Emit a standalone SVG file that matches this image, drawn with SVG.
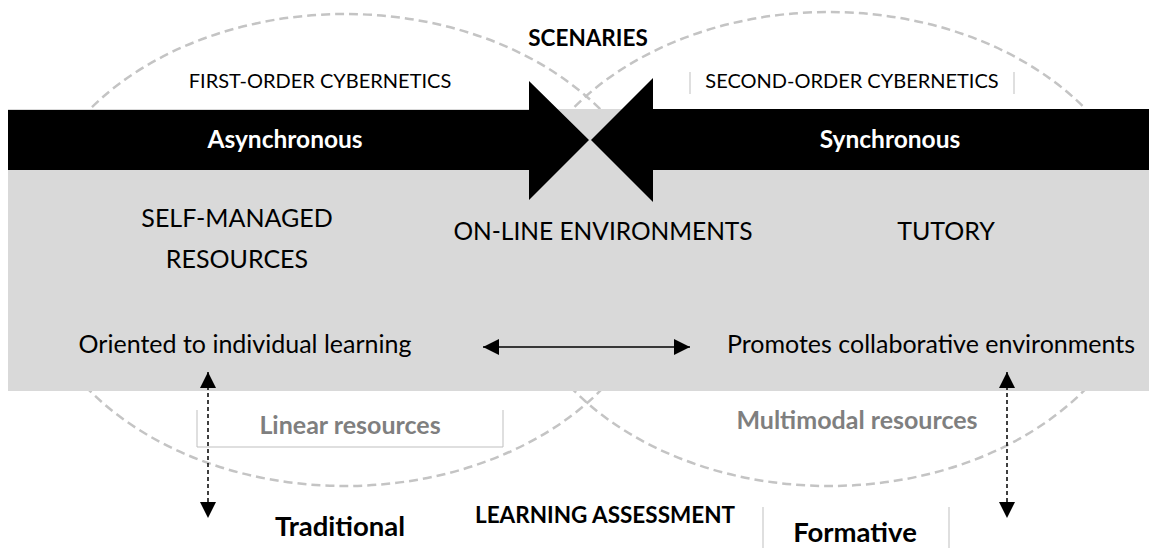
<svg xmlns="http://www.w3.org/2000/svg" width="1157" height="548" viewBox="0 0 1157 548">
<style>
text{font-family:Lato,"Liberation Sans",sans-serif;fill:#000;text-anchor:middle}
.b{font-weight:bold}
.w{fill:#fff}
.g{fill:#7f7f7f}
.ell{fill:none;stroke:#c4c4c4;stroke-width:2.5;stroke-dasharray:9 5}
.thin{stroke:#bfbfbf;stroke-width:1;fill:none}
.dot{stroke:#000;stroke-width:1.5;stroke-dasharray:4 3;fill:none}
</style>
<defs>
<marker id="ah" viewBox="0 0 10 10" refX="10" refY="5" markerWidth="16" markerHeight="16" markerUnits="userSpaceOnUse" orient="auto-start-reverse"><path d="M0,0L10,5L0,10z" fill="#000"/></marker>
</defs>
<g id="scenario-circles">
<ellipse class="ell" cx="345" cy="250" rx="318" ry="236"/>
<ellipse class="ell" cx="829" cy="249" rx="318" ry="237"/>
</g>
<g id="band">
<rect x="8" y="109" width="1141" height="282" fill="#d9d9d9"/>
</g>
<g id="async-arrow">
<path d="M8,110H529V81L589,140L529,200V170H8z" fill="#000"/>
<text class="b w" x="285" y="148" font-size="24.5">Asynchronous</text>
</g>
<g id="sync-arrow">
<path d="M1149,109H653V78L591,140L653,202V170H1149z" fill="#000"/>
<text class="b w" x="890" y="148" font-size="24.5">Synchronous</text>
</g>
<g id="scenaries"><text class="b" x="588" y="46" font-size="22.5">SCENARIES</text></g>
<g id="first-order"><text x="320" y="88" font-size="20">FIRST-ORDER CYBERNETICS</text></g>
<g id="second-order">
<path class="thin" d="M690,72V94M1014,72V94"/>
<text x="852" y="88" font-size="20">SECOND-ORDER CYBERNETICS</text>
</g>
<g id="self-managed">
<text x="237" y="227" font-size="25">SELF-MANAGED</text>
<text x="237" y="268" font-size="25">RESOURCES</text>
</g>
<g id="online"><text x="603" y="240" font-size="24.5">ON-LINE ENVIRONMENTS</text></g>
<g id="tutory"><text x="946" y="240" font-size="25">TUTORY</text></g>
<g id="individual"><text x="245" y="353" font-size="25">Oriented to individual learning</text></g>
<g id="collaborative"><text x="931" y="353" font-size="25">Promotes collaborative environments</text></g>
<g id="linear">
<path class="thin" d="M197,410V447H503V410"/>
<text class="b g" x="350" y="434" font-size="25">Linear resources</text>
</g>
<g id="multimodal"><text class="b g" x="857" y="429" font-size="25">Multimodal resources</text></g>
<g id="traditional"><text class="b" x="340" y="536" font-size="27.5">Traditional</text></g>
<g id="assessment"><text class="b" x="605" y="523" font-size="22.5">LEARNING ASSESSMENT</text></g>
<g id="formative">
<path class="thin" d="M763,507V548M949,507V548"/>
<text class="b" x="855" y="542" font-size="27.5">Formative</text>
</g>
<g id="connectors">
<line x1="483" y1="347" x2="690" y2="347" stroke="#000" stroke-width="1.5" marker-start="url(#ah)" marker-end="url(#ah)"/>
<line class="dot" x1="208" y1="372" x2="208" y2="518" marker-start="url(#ah)" marker-end="url(#ah)"/>
<line class="dot" x1="1007" y1="372" x2="1007" y2="518" marker-start="url(#ah)" marker-end="url(#ah)"/>
</g>
</svg>
